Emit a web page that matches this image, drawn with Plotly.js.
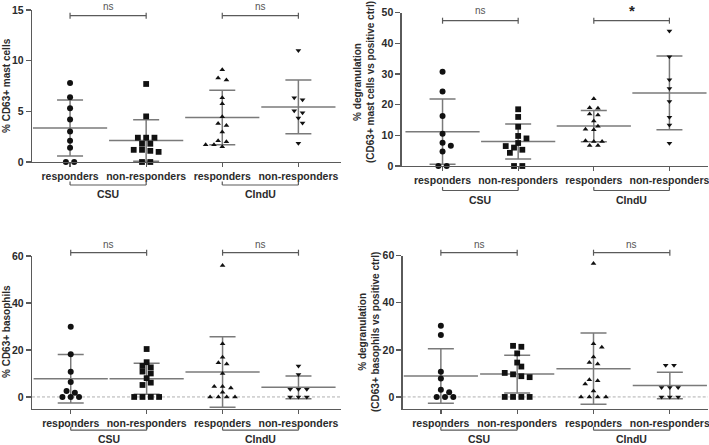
<!DOCTYPE html>
<html><head><meta charset="utf-8">
<script src="https://cdn.plot.ly/plotly-3.0.1.min.js"></script>
<style>html,body{margin:0;padding:0;background:#fff}#chart{width:709px;height:445px}</style>
</head><body><div id="chart"></div>
<script>
// ---------------- data ----------------
const categories = ['responders', 'non-responders', 'responders', 'non-responders'];
const groupLabels = ['CSU', 'CIndU'];
const yTitles = [
  '% CD63+ mast cells',
  '% degranulation<br>(CD63+ mast cells vs positive ctrl)',
  '% CD63+ basophils',
  '% degranulation<br>(CD63+ basophils vs positive ctrl)'
];
const significance = [['ns', 'ns'], ['ns', '*'], ['ns', 'ns'], ['ns', 'ns']];

// Panel A: % CD63+ mast cells
const mastCsuResp      = [7.8, 6.4, 5.3, 4.2, 3.0, 2.1, 1.4, 0, 0];
const mastCsuNonResp   = [7.7, 4.5, 2.4, 2.4, 2.4, 1.8, 1.8, 1.2, 1.1, 1.0, 1.2, 0, 0];
const mastCinduResp    = [9.1, 8.1, 8.3, 6.35, 5.76, 4.47, 3.6, 3.8, 2.95, 2.0, 2.1, 1.5, 1.7, 1.7];
const mastCinduNonResp = [11.0, 6.35, 6.15, 5.05, 4.85, 4.35, 3.85, 1.85];

// Panel B: % degranulation mast cells
const degMastCsuResp      = [30.7, 24.3, 16.3, 10.5, 7.6, 6.6, 4.7, 0, 0];
const degMastCsuNonResp   = [18.5, 16.0, 12.8, 9.8, 9.0, 7.5, 6.5, 6.0, 5.3, 4.3, 0, 0];
const degMastCinduResp    = [21.9, 18.8, 19.0, 17.0, 16.6, 14.7, 13.0, 12.0, 11.8, 8.2, 8.0, 8.0, 6.7, 6.7];
const degMastCinduNonResp = [44.0, 35.6, 28.1, 25.3, 21.0, 15.9, 13.4, 7.4];

// Panel C: % CD63+ basophils
const basoCsuResp      = [29.9, 18.2, 10.7, 6.4, 2.5, 1.8, 0, 0, 0];
const basoCsuNonResp   = [20.4, 14.8, 13.2, 12.6, 10.8, 10.0, 8.0, 6.1, 5.1, 0, 0, 0, 0];
const basoCinduResp    = [56.0, 22.6, 16.9, 14.0, 14.6, 10.0, 4.4, 4.4, 3.8, 2.0, 0, 0, 0, 0];
const basoCinduNonResp = [13.2, 9.6, 3.3, 3.3, 3.3, 0, 0, 0];

// Panel D: % degranulation basophils
const degBasoCsuResp      = [30.2, 26.3, 10.7, 7.8, 3.1, 2.0, 0, 0, 0];
const degBasoCsuNonResp   = [21.3, 21.7, 18.5, 14.6, 12.9, 10.2, 9.6, 8.4, 8.8, 0, 0, 0, 0];
const degBasoCinduResp    = [56.7, 22.6, 21.1, 17.0, 14.0, 14.6, 6.9, 7.3, 5.5, 2.5, 0, 0, 0, 0];
const degBasoCinduNonResp = [13.5, 13.5, 4.0, 4.0, 4.0, 0, 0, 0];

// ---------------- layout settings ----------------
const W = 709, H = 445;
const FONT = 'Liberation Sans, Arial, Helvetica, sans-serif';
const AX = '#5a5a5a', BAR = '#7a7a7a', TXT = '#2b2b2b', PT = '#111111';
const symbols = ['circle', 'square', 'triangle-up', 'triangle-down'];
const symSize = [6, 5.8, 5, 5];

const panels = [
  {series: [mastCsuResp, mastCsuNonResp, mastCinduResp, mastCinduNonResp],
   xPx: [32, 341], yPx: [10, 162], xr: [-0.5, 3.56], yr: [0, 15], tv: [0, 5, 10, 15],
   brY: 15.7, sigY: 7, lowY: 185, grpY: 194.3, tX: 6, tY: 86},
  {series: [degMastCsuResp, degMastCsuNonResp, degMastCinduResp, degMastCinduNonResp],
   xPx: [401.7, 708], yPx: [12.7, 166], xr: [-0.54, 3.51], yr: [0, 50], tv: [0, 10, 20, 30, 40, 50],
   brY: 20.7, sigY: 10, lowY: 190.5, grpY: 200.5, tX: 364, tY: 82},
  {series: [basoCsuResp, basoCsuNonResp, basoCinduResp, basoCinduNonResp],
   xPx: [32, 341], yPx: [256, 408.7], xr: [-0.51, 3.56], yr: [-5, 60], tv: [0, 20, 40, 60],
   brY: 252.7, sigY: 244, lowY: 430.2, grpY: 439.2, tX: 6, tY: 332, dash: true},
  {series: [degBasoCsuResp, degBasoCsuNonResp, degBasoCinduResp, degBasoCinduNonResp],
   xPx: [402.7, 708], yPx: [255.7, 408.7], xr: [-0.5, 3.5], yr: [-5, 60], tv: [0, 20, 40, 60],
   brY: 252.7, sigY: 244, lowY: 430.2, grpY: 439.2, tX: 369, tY: 332, dash: true}
];

function mean(a) { return a.reduce((s, v) => s + v, 0) / a.length; }
function sd(a) { const m = mean(a); return Math.sqrt(a.reduce((s, v) => s + (v - m) * (v - m), 0) / (a.length - 1)); }

// deterministic dot-plot spreading:
// near-equal values form a centred row; rows are then shifted sideways to avoid overlaps
const HALF = 4.15, TIE = 2.2, DIST = 5.5;
function spread(vals, pxPerUnit, pxPerCat) {
  const idx = vals.map((v, i) => i).sort((a, b) => vals[b] - vals[a]);
  const rows = [];
  let cur = [idx[0]];
  for (let j = 1; j < idx.length; j++) {
    if ((vals[idx[j - 1]] - vals[idx[j]]) * pxPerUnit < TIE) cur.push(idx[j]);
    else { rows.push(cur); cur = [idx[j]]; }
  }
  rows.push(cur);
  const placed = [];
  const outPx = new Array(vals.length).fill(0);
  const cands = [0, 1, -1, 2, -2, 3, -3, 4, -4];
  rows.forEach(row => {
    const n = row.length;
    for (const c of cands) {
      const pos = row.map((id, k) => ({id, x: (2 * k - (n - 1)) * HALF + c * HALF, y: vals[id] * pxPerUnit}));
      const ok = pos.every(p => placed.every(q => Math.hypot(p.x - q.x, p.y - q.y) >= DIST));
      if (ok || c === cands[cands.length - 1]) {
        pos.forEach(p => { outPx[p.id] = p.x; placed.push(p); });
        break;
      }
    }
  });
  return outPx.map(p => p / pxPerCat);
}

const traces = [], shapes = [], annotations = [];
const layout = {
  width: W, height: H, margin: {l: 0, r: 0, t: 0, b: 0},
  paper_bgcolor: '#fff', plot_bgcolor: '#fff', showlegend: false,
  font: {family: FONT, color: TXT}
};

const py = p => 1 - p / H;

panels.forEach((P, pi) => {
  const n = pi === 0 ? '' : String(pi + 1);
  const xa = 'x' + n, ya = 'y' + n;
  const xd = [P.xPx[0] / W, P.xPx[1] / W];
  const yd = [py(P.yPx[1]), py(P.yPx[0])];
  const pxPerUnit = (P.yPx[1] - P.yPx[0]) / (P.yr[1] - P.yr[0]);
  const pxPerCat = (P.xPx[1] - P.xPx[0]) / (P.xr[1] - P.xr[0]);
  const toPaperX = v => xd[0] + (v - P.xr[0]) / (P.xr[1] - P.xr[0]) * (xd[1] - xd[0]);

  layout['xaxis' + n] = {
    domain: xd, range: P.xr, anchor: ya, tickvals: [0, 1, 2, 3], ticktext: categories,
    showline: true, linecolor: AX, linewidth: 1.3, ticks: 'outside', ticklen: 4, tickwidth: 1.3, tickcolor: AX,
    showgrid: false, zeroline: false, ticklabeloverflow: 'allow',
    tickfont: {family: FONT, size: 10.5, color: TXT, weight: 'bold'}
  };
  layout['yaxis' + n] = {
    domain: yd, range: P.yr, anchor: xa, tickvals: P.tv,
    showline: true, linecolor: AX, linewidth: 1.3, ticks: 'outside', ticklen: 5, tickwidth: 1.3, tickcolor: AX,
    showgrid: false, zeroline: false, ticklabeloverflow: 'allow',
    tickfont: {family: FONT, size: 10.5, color: TXT, weight: 'bold'}
  };

  if (P.dash) {
    shapes.push({type: 'line', xref: xa, yref: ya, x0: P.xr[0], x1: P.xr[1], y0: 0, y1: 0,
      line: {color: '#b0b0b0', width: 1, dash: '3px,2px'}, layer: 'below'});
  }

  // mean +/- SD
  const means = P.series.map(mean), sds = P.series.map(sd);
  traces.push({
    type: 'scatter', mode: 'markers', xaxis: xa, yaxis: ya, x: [0, 1, 2, 3], y: means,
    marker: {symbol: 'line-ew', size: 53, color: BAR, line: {color: BAR, width: 1.5}},
    error_y: {type: 'data', array: sds, visible: true, width: 13, thickness: 1.5, color: BAR},
    hoverinfo: 'skip', cliponaxis: false
  });

  // points
  P.series.forEach((vals, gi) => {
    const off = spread(vals, pxPerUnit, pxPerCat);
    traces.push({
      type: 'scatter', mode: 'markers', xaxis: xa, yaxis: ya,
      x: vals.map((v, i) => gi + off[i]), y: vals, cliponaxis: false,
      marker: {symbol: symbols[gi], size: symSize[gi], color: PT, line: {width: 0}},
      name: categories[gi]
    });
  });

  // brackets
  [[0, 1], [2, 3]].forEach((pair, k) => {
    const xa0 = toPaperX(pair[0]), xa1 = toPaperX(pair[1]);
    const line = {color: AX, width: 1.2};
    shapes.push({type: 'line', xref: 'paper', yref: 'paper', x0: xa0, x1: xa1, y0: py(P.brY), y1: py(P.brY), line});
    [xa0, xa1].forEach(xx => shapes.push({type: 'line', xref: 'paper', yref: 'paper', x0: xx, x1: xx,
      y0: py(P.brY - 3), y1: py(P.brY + 3), line}));
    const sig = significance[pi][k];
    annotations.push({xref: 'paper', yref: 'paper', x: (xa0 + xa1) / 2, y: py(P.sigY),
      xanchor: 'center', yanchor: 'middle', showarrow: false, text: sig,
      font: sig === '*' ? {family: FONT, size: 15, color: '#222', weight: 'bold'} : {family: FONT, size: 10, color: '#555'}});
    shapes.push({type: 'line', xref: 'paper', yref: 'paper', x0: xa0, x1: xa1, y0: py(P.lowY), y1: py(P.lowY), line});
    [xa0, xa1].forEach(xx => shapes.push({type: 'line', xref: 'paper', yref: 'paper', x0: xx, x1: xx,
      y0: py(P.lowY - 3.5), y1: py(P.lowY), line}));
    annotations.push({xref: 'paper', yref: 'paper', x: (xa0 + xa1) / 2, y: py(P.grpY),
      xanchor: 'center', yanchor: 'middle', showarrow: false, text: groupLabels[k],
      font: {family: FONT, size: 10.5, color: TXT, weight: 'bold'}});
  });

  annotations.push({xref: 'paper', yref: 'paper', x: P.tX / W, y: py(P.tY), xanchor: 'center', yanchor: 'middle',
    showarrow: false, textangle: -90, text: yTitles[pi],
    font: {family: FONT, size: 10, color: TXT, weight: 'bold'}});
});

layout.shapes = shapes;
layout.annotations = annotations;
Plotly.newPlot('chart', traces, layout, {displayModeBar: false, staticPlot: true});
</script></body></html>
